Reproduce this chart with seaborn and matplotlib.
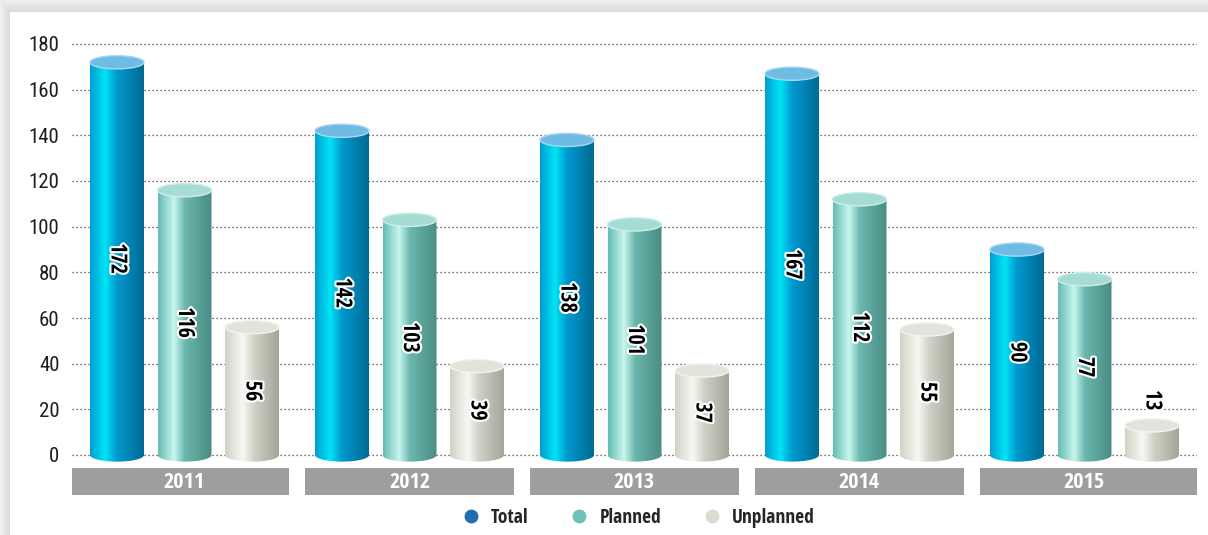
import os
import re
import numpy as np
import pandas as pd
import matplotlib
matplotlib.use("Agg")
import matplotlib.pyplot as plt
import matplotlib.patheffects as pe
import seaborn as sns
from matplotlib import font_manager
from matplotlib.colors import LinearSegmentedColormap
from matplotlib.patches import Ellipse, Rectangle
from matplotlib.path import Path
from matplotlib.lines import Line2D

# ---- data -------------------------------------------------------------
years = ["2011", "2012", "2013", "2014", "2015"]
series = ["Total", "Planned", "Unplanned"]
total = [172, 142, 138, 167, 90]
planned = [116, 103, 101, 112, 77]
unplanned = [56, 39, 37, 55, 13]
y_ticks = [0, 20, 40, 60, 80, 100, 120, 140, 160, 180]

# ---- styling ------------------------------------------------------------
legend_colors = {"Total": "#1f6db3", "Planned": "#6ec2b9", "Unplanned": "#d9ddd0"}
shades = {
    "Total": [(0.0, "#009dd4"), (0.28, "#00e4f5"), (0.5, "#0098cf"), (1.0, "#006a92")],
    "Planned": [(0.0, "#63bcb3"), (0.30, "#c8f6ee"), (0.5, "#6ab7ad"), (1.0, "#4a8c84")],
    "Unplanned": [(0.0, "#cfd3c5"), (0.33, "#f7f8f3"), (0.55, "#cdd0c3"), (1.0, "#a2a599")],
}
caps = {"Total": ("#70bbe4", "#a9d8f0"),
        "Planned": ("#a6dcd3", "#cdeee8"),
        "Unplanned": ("#e1e4da", "#f3f4ef")}

sns.set_theme(style="white")
plt.rcParams["font.family"] = ["DejaVu Sans"]


# ---- condensed typefaces ------------------------------------------------
def _font_files():
    paths = {f.fname for f in font_manager.fontManager.ttflist}
    for d in ["/usr/share/fonts", "/usr/local/share/fonts",
              os.path.expanduser("~/.fonts")]:
        if os.path.isdir(d):
            for root, _, names in os.walk(d):
                for n in names:
                    if n.lower().endswith((".ttf", ".otf")):
                        paths.add(os.path.join(root, n))
    return sorted(paths)


FILES = _font_files()
FAMILY_ORDER = ["notosans", "opensans", "lato", "roboto", "dejavusans", "liberationsans"]


def _pick(bold):
    best = None
    for p in FILES:
        name = os.path.basename(p).lower().replace("_", "").replace("-", "")
        if not re.search(r"cond|narrow", name):
            continue
        if re.search(r"italic|oblique|mono|serif(?!.*sans)|semi|extra|light|medium|black|thin", name):
            continue
        is_bold = "bold" in name
        if is_bold != bold:
            continue
        rank = next((i for i, fam in enumerate(FAMILY_ORDER) if name.startswith(fam)), 99)
        if best is None or rank < best[0]:
            best = (rank, p)
    return best[1] if best else None


BOLD_FILE = _pick(True)
REG_FILE = _pick(False)


def bold_font(size):
    if BOLD_FILE:
        return font_manager.FontProperties(fname=BOLD_FILE, size=size)
    return font_manager.FontProperties(family="DejaVu Sans", weight="bold",
                                       stretch="condensed", size=size)


def reg_font(size):
    if REG_FILE:
        return font_manager.FontProperties(fname=REG_FILE, size=size)
    return font_manager.FontProperties(family="DejaVu Sans",
                                       stretch="condensed", size=size)


W, H = 1208, 535
fig = plt.figure(figsize=(W / 100, H / 100), dpi=100, facecolor="white")

# soft drop shadow along the top and left of the white panel
bg = fig.add_axes([0, 0, 1, 1], zorder=-10)
yy, xx = np.mgrid[0:H, 0:W]
panel_left, panel_top = 10, 12
dx = np.clip(panel_left - xx, 0, None) / panel_left
dy = np.clip(panel_top - yy, 0, None) / panel_top
outside = (xx < panel_left) | (yy < panel_top)
dist = np.maximum(dx, dy)
level = np.where(outside, 0.85 + 0.09 * dist, 1.0)
bg.imshow(np.dstack([level] * 3), extent=[0, W, H, 0], aspect="auto")
bg.axis("off")

# main axes: 0 sits at y=455px, 180 at y=44px
ymin, ymax = -4, 182
ppu = (455 - 44) / 180.0
ax_bottom = 455 + (0 - ymin) * ppu
ax_top = 44 - (ymax - 180) * ppu
ax = fig.add_axes([72 / W, 1 - ax_bottom / H, 1125 / W, (ax_bottom - ax_top) / H])
ax.set_facecolor("none")

df = pd.concat(
    [pd.DataFrame({"year": years, "kind": name, "count": vals})
     for name, vals in zip(series, [total, planned, unplanned])],
    ignore_index=True,
)

sns.barplot(data=df, x="year", y="count", hue="kind", order=years,
            hue_order=series, palette=legend_colors, width=0.9, gap=0.2,
            legend=False, ax=ax, zorder=3)

# turn each flat bar into a shaded cylinder
e = 2.9  # half-height of the elliptical ends, in data units
t = np.linspace(np.pi, 2 * np.pi, 60)
for container, name in zip(ax.containers, series):
    cmap = LinearSegmentedColormap.from_list(name, shades[name])
    grad = cmap(np.linspace(0, 1, 256))[None, :, :3]
    for bar in container:
        x0, w, h = bar.get_x(), bar.get_width(), bar.get_height()
        bar.set_visible(False)
        cx = x0 + w / 2
        bottom = np.column_stack([cx + w / 2 * np.cos(t), e * np.sin(t)])
        verts = np.vstack([[x0, h], bottom, [x0 + w, h], [x0, h]])
        body = Path(verts, closed=True)
        im = ax.imshow(grad, extent=[x0, x0 + w, -e, h], aspect="auto",
                       interpolation="bilinear", zorder=3)
        im.set_clip_path(body, ax.transData)
        face, rim = caps[name]
        ax.add_patch(Ellipse((cx, h), w, 2 * e, facecolor=face,
                             edgecolor=rim, lw=1.0, zorder=4))
        if h >= 20:
            ty, va = h / 2, "center"
        else:
            ty, va = h + e + 3.5, "bottom"
        ax.text(cx, ty, f"{h:g}", rotation=-90, ha="center", va=va,
                fontproperties=bold_font(16), color="black", zorder=5,
                path_effects=[pe.withStroke(linewidth=3, foreground="white")])

ax.set_xlim(-0.5, len(years) - 0.5)
ax.set_ylim(ymin, ymax)
ax.set_yticks(y_ticks)
ax.set_axisbelow(True)
ax.yaxis.grid(True, linestyle=(0, (1, 2.2)), color="#3a3a3a", lw=0.9)
ax.xaxis.grid(False)
ax.tick_params(axis="y", length=0, pad=9, labelcolor="#1e1e1e")
for lab in ax.get_yticklabels():
    lab.set_fontproperties(reg_font(15))
ax.tick_params(axis="x", length=0, labelbottom=False)
ax.set_xlabel("")
ax.set_ylabel("")
sns.despine(ax=ax, left=True, bottom=True)

# grey year bands beneath the groups
inset = 0.034
for i, yr in enumerate(years):
    left = i - 0.5 + (inset if i > 0 else 0)
    right = i + 0.5 - (inset if i < len(years) - 1 else 0)
    ax.add_patch(Rectangle((left, -17.6), right - left, 11.9,
                           facecolor="#9d9ea0", edgecolor="none",
                           clip_on=False, zorder=2))
    ax.text(i, -11.9, yr, ha="center", va="center", color="white",
            fontproperties=bold_font(16), clip_on=False, zorder=3)

handles = [Line2D([], [], marker="o", linestyle="none", markersize=10,
                  markerfacecolor=legend_colors[s], markeredgecolor="none",
                  label=s) for s in series]
fig.legend(handles=handles, loc="center", bbox_to_anchor=(638 / W, 1 - 518 / H),
           ncol=3, frameon=False, prop=bold_font(14), handlelength=1.0,
           handletextpad=0.55, columnspacing=2.1)

fig.savefig("out.png", dpi=100)
